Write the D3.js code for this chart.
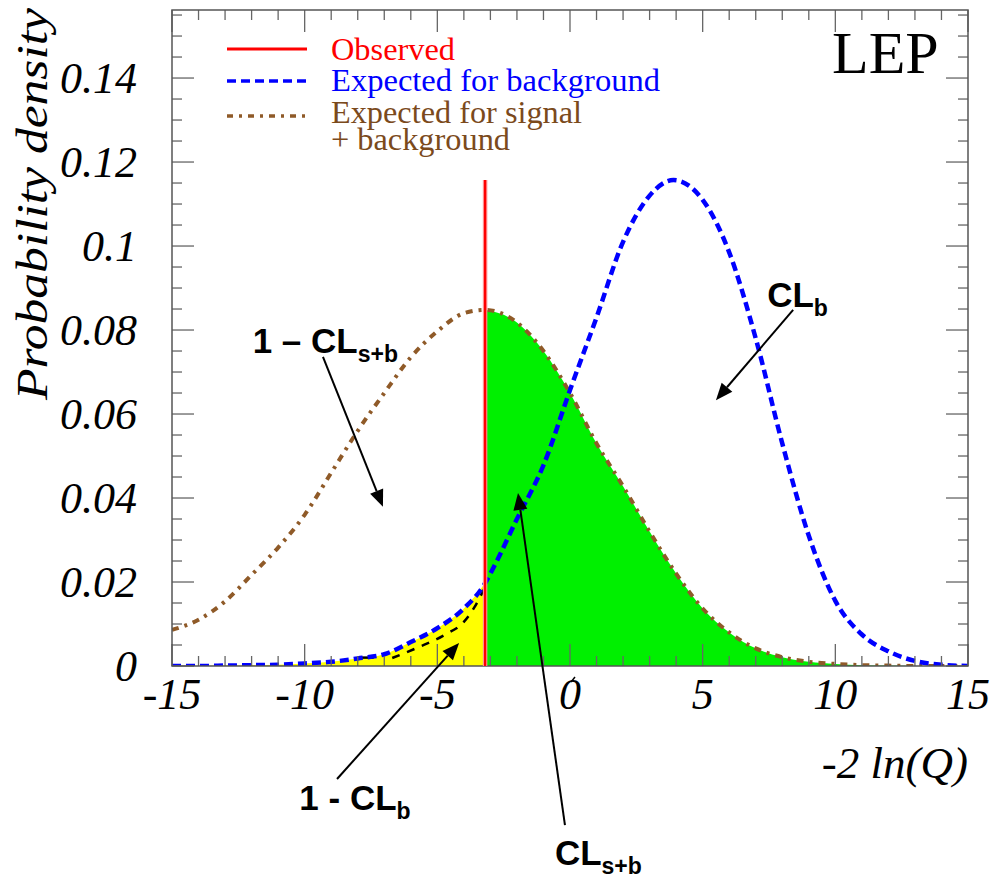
<!DOCTYPE html>
<html>
<head>
<meta charset="utf-8">
<script src="https://cdn.jsdelivr.net/npm/d3@7"></script>
<style>
body { margin: 0; background: #fff; }
</style>
</head>
<body>
<svg width="992" height="880"></svg>
<script>
// expected for background (blue)
var bgX = [-15, -14, -13, -12, -11, -10, -9, -8, -7, -6, -5, -4, -3.2, -3, -2, -1, 0, 1, 2, 3, 3.9, 5, 6, 7, 8, 9, 10, 11, 12, 13, 14, 15];
var bgY = [0, 0, 0.0001, 0.0002, 0.0003, 0.0006, 0.001, 0.0018, 0.0028, 0.0057, 0.009, 0.0137, 0.0197, 0.022, 0.035, 0.0478, 0.0657, 0.083, 0.101, 0.112, 0.1157, 0.111, 0.0985, 0.078, 0.053, 0.031, 0.0155, 0.0075, 0.0035, 0.0012, 0.0003, 0];

// expected for signal + background (brown)
var sbX = [-15, -14, -13, -12, -11, -10, -9, -8, -7, -6, -5, -4, -3.2, -2, -1, 0, 1, 2, 3, 4, 5, 6, 7, 8, 9, 10, 11, 12, 13, 14, 15];
var sbY = [0.0086, 0.011, 0.0154, 0.0217, 0.0282, 0.036, 0.046, 0.056, 0.065, 0.0735, 0.0797, 0.084, 0.0848, 0.0818, 0.075, 0.065, 0.053, 0.0428, 0.032, 0.022, 0.0137, 0.008, 0.0042, 0.0021, 0.001, 0.0005, 0.0002, 0.0001, 0, 0, 0];

// stray black dashed trace under the blue curve
var ghostX = [-6.7, -5.7, -4.7, -4.0, -3.6, -3.2];
var ghostY = [0.0019, 0.0045, 0.0075, 0.0105, 0.014, 0.0188];
var stubX = [-7.9, -7.4];
var stubY = [0.002, 0.002];

var observed = -3.2;
var observedTop = 0.1157;

var xTicks = [-15, -10, -5, 0, 5, 10, 15];
var yTicks = [0, 0.02, 0.04, 0.06, 0.08, 0.1, 0.12, 0.14];
var yTickLabels = ['0', '0.02', '0.04', '0.06', '0.08', '0.1', '0.12', '0.14'];

var legendLabels = ['Observed', 'Expected for background', 'Expected for signal', '+ background'];

// annotations: label, subscript, label pos, arrow tail, arrow tip (data units)
var notes = [
    {main: '1 \u2013 CL', sub: 's+b', lx: -11.96, ly: 0.0745, x1: -9.31, y1: 0.0736, x2: -7.05, y2: 0.0379},
    {main: 'CL', sub: 'b', lx: 7.43, ly: 0.0855, x1: 8.41, y1: 0.0848, x2: 5.5, y2: 0.0633},
    {main: '1 - CL', sub: 'b', lx: -10.2, ly: -0.0343, x1: -8.78, y1: -0.0269, x2: -4.18, y2: 0.0055},
    {main: 'CL', sub: 's+b', lx: -0.57, ly: -0.0474, x1: -0.19, y1: -0.0379, x2: -1.96, y2: 0.0412}
];

var svg = d3.select('svg');
var plotLeft = 172, plotRight = 968, plotTop = 10, plotBottom = 666;

var x = d3.scaleLinear().domain([-15, 15]).range([plotLeft, plotRight]);
var y = d3.scaleLinear().domain([0, 0.1562]).range([plotBottom, plotTop]);

var red = '#ff0000', blue = '#0000ff', brown = '#8f5a28', brownText = '#7b4a1c';

var bg = bgX.map(function(v, i) { return {x: v, y: bgY[i]}; });
var sb = sbX.map(function(v, i) { return {x: v, y: sbY[i]}; });
var ghost = ghostX.map(function(v, i) { return {x: v, y: ghostY[i]}; });
var stub = stubX.map(function(v, i) { return {x: v, y: stubY[i]}; });

svg.append('defs').append('clipPath').attr('id', 'plot')
    .append('rect')
    .attr('x', plotLeft).attr('y', plotTop)
    .attr('width', plotRight - plotLeft).attr('height', plotBottom - plotTop);

var line = d3.line()
    .x(function(d) { return x(d.x); })
    .y(function(d) { return y(d.y); })
    .curve(d3.curveMonotoneX);

var area = d3.area()
    .x(function(d) { return x(d.x); })
    .y0(y(0))
    .y1(function(d) { return y(d.y); })
    .curve(d3.curveMonotoneX);

var plot = svg.append('g').attr('clip-path', 'url(#plot)');

// 1 - CLb : yellow, CLs+b : green
plot.append('path')
    .datum(bg.filter(function(d) { return d.x <= observed; }))
    .attr('d', area)
    .attr('fill', '#ffff00');

plot.append('path')
    .datum(sb.filter(function(d) { return d.x >= observed; }))
    .attr('d', area)
    .attr('fill', '#00f000');

// ticks (ROOT style, all four sides, pointing inward)
var tickG = svg.append('g').attr('stroke', '#666').attr('stroke-width', 1.3);
d3.range(0, 31).forEach(function(i) {
    var v = -15 + i;
    var len = (v % 5 === 0) ? 22 : 10;
    tickG.append('line').attr('x1', x(v)).attr('x2', x(v)).attr('y1', plotBottom).attr('y2', plotBottom - len);
    tickG.append('line').attr('x1', x(v)).attr('x2', x(v)).attr('y1', plotTop).attr('y2', plotTop + len);
});
d3.range(0, 32).forEach(function(i) {
    var v = i * 0.005;
    if (v > 0.1562) return;
    var len = (i % 4 === 0) ? 22 : 10;
    tickG.append('line').attr('x1', plotLeft).attr('x2', plotLeft + len).attr('y1', y(v)).attr('y2', y(v));
    tickG.append('line').attr('x1', plotRight).attr('x2', plotRight - len).attr('y1', y(v)).attr('y2', y(v));
});

svg.append('rect')
    .attr('x', plotLeft).attr('y', plotTop)
    .attr('width', plotRight - plotLeft).attr('height', plotBottom - plotTop)
    .attr('fill', 'none')
    .attr('stroke', '#555')
    .attr('stroke-width', 1.5);

// curves
plot.append('path')
    .datum(sb)
    .attr('d', line)
    .attr('fill', 'none')
    .attr('stroke', brown)
    .attr('stroke-width', 4)
    .attr('stroke-dasharray', '7,6,3,6');

plot.append('path')
    .datum(ghost)
    .attr('d', line)
    .attr('fill', 'none')
    .attr('stroke', '#000')
    .attr('stroke-width', 2.5)
    .attr('stroke-dasharray', '8,8');

plot.append('path')
    .datum(stub)
    .attr('d', line)
    .attr('fill', 'none')
    .attr('stroke', '#000')
    .attr('stroke-width', 2.5);

plot.append('path')
    .datum(bg)
    .attr('d', line)
    .attr('fill', 'none')
    .attr('stroke', blue)
    .attr('stroke-width', 4.5)
    .attr('stroke-dasharray', '9,5');

// observed value
svg.append('line')
    .attr('x1', x(observed)).attr('x2', x(observed))
    .attr('y1', y(0)).attr('y2', y(observedTop))
    .attr('stroke', '#ff8f8f')
    .attr('stroke-width', 4.5);
svg.append('line')
    .attr('x1', x(observed)).attr('x2', x(observed))
    .attr('y1', y(0)).attr('y2', y(observedTop))
    .attr('stroke', red)
    .attr('stroke-width', 2.2);

// tick labels
var tickFont = '"Liberation Serif", "Times New Roman", serif';
svg.append('g').selectAll('text')
    .data(xTicks)
    .enter()
    .append('text')
    .attr('x', function(d) { return x(d); })
    .attr('y', 709)
    .attr('text-anchor', 'middle')
    .style('font-family', tickFont)
    .style('font-style', 'italic')
    .style('font-size', '44px')
    .text(function(d) { return d; });

// small stray mark above the "0" label
svg.append('line')
    .attr('x1', x(0) + 1).attr('y1', plotBottom + 16)
    .attr('x2', x(0) + 5).attr('y2', plotBottom + 11)
    .attr('stroke', '#000').attr('stroke-width', 1.5);

svg.append('g').selectAll('text')
    .data(yTicks)
    .enter()
    .append('text')
    .attr('x', 137)
    .attr('y', function(d) { return y(d) + 15; })
    .attr('text-anchor', 'end')
    .style('font-family', tickFont)
    .style('font-style', 'italic')
    .style('font-size', '44px')
    .text(function(d, i) { return yTickLabels[i]; });

// axis titles
svg.append('text')
    .attr('x', 968)
    .attr('y', 778)
    .attr('text-anchor', 'end')
    .style('font-family', tickFont)
    .style('font-style', 'italic')
    .style('font-size', '45px')
    .text('-2 ln(Q)');

svg.append('text')
    .attr('transform', 'translate(47,400) rotate(-90)')
    .attr('textLength', 392)
    .attr('lengthAdjust', 'spacingAndGlyphs')
    .style('font-family', tickFont)
    .style('font-style', 'italic')
    .style('font-size', '44px')
    .text('Probability density');

// LEP tag
svg.append('text')
    .attr('x', 832)
    .attr('y', 73)
    .style('font-family', tickFont)
    .style('font-size', '60px')
    .text('LEP');

// legend
var legend = svg.append('g');
var legendRows = [
    {y: 49, color: red, dash: null, width: 3},
    {y: 81, color: blue, dash: '9,5', width: 3.5},
    {y: 116, color: brown, dash: '6,6,3,6', width: 3.5}
];
legendRows.forEach(function(r) {
    legend.append('line')
        .attr('x1', 227).attr('x2', 307)
        .attr('y1', r.y).attr('y2', r.y)
        .attr('stroke', r.color)
        .attr('stroke-width', r.width)
        .attr('stroke-dasharray', r.dash);
});
var legendText = [
    {y: 60, color: red, w: 124},
    {y: 91, color: blue, w: 329},
    {y: 123, color: brownText, w: 251},
    {y: 150, color: brownText, w: 179}
];
legend.selectAll('text')
    .data(legendLabels)
    .enter()
    .append('text')
    .attr('x', 331)
    .attr('y', function(d, i) { return legendText[i].y; })
    .attr('textLength', function(d, i) { return legendText[i].w; })
    .attr('lengthAdjust', 'spacingAndGlyphs')
    .attr('fill', function(d, i) { return legendText[i].color; })
    .style('font-family', tickFont)
    .style('font-size', '31px')
    .text(function(d) { return d; });

// annotations with arrows
var ann = svg.append('g');
notes.forEach(function(n) {
    var t = ann.append('text')
        .attr('x', x(n.lx))
        .attr('y', y(n.ly))
        .style('font-family', '"Liberation Sans", Arial, sans-serif')
        .style('font-weight', 'bold')
        .style('font-size', '35px')
        .text(n.main);
    t.append('tspan')
        .attr('dy', 9)
        .style('font-size', '23px')
        .text(n.sub);

    var px1 = x(n.x1), py1 = y(n.y1), px2 = x(n.x2), py2 = y(n.y2);
    var a = Math.atan2(py2 - py1, px2 - px1);
    var hl = 17, hw = 7;
    var bx = px2 - hl * Math.cos(a), by = py2 - hl * Math.sin(a);
    ann.append('line')
        .attr('x1', px1).attr('y1', py1)
        .attr('x2', bx).attr('y2', by)
        .attr('stroke', '#000')
        .attr('stroke-width', 2);
    var pts = [
        [px2, py2],
        [bx + hw * Math.sin(a), by - hw * Math.cos(a)],
        [bx - hw * Math.sin(a), by + hw * Math.cos(a)]
    ];
    ann.append('path')
        .attr('d', 'M' + pts.join('L') + 'Z')
        .attr('fill', '#000');
});
</script>
</body>
</html>
